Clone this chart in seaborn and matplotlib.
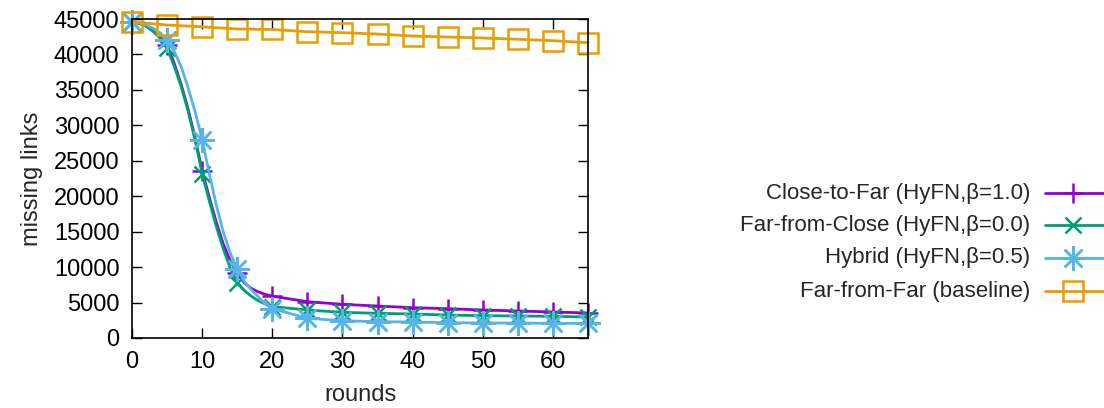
import numpy as np
import pandas as pd
import matplotlib
matplotlib.use("Agg")
import matplotlib.pyplot as plt
from matplotlib.lines import Line2D
import seaborn as sns

# rounds: every round up to 20, then every 5 (curves are flat there)
rounds = list(range(0, 21)) + [25, 30, 35, 40, 45, 50, 55, 60, 65]
close_to_far = [44600, 44400, 44000, 43300, 42400, 41300, 38800, 35800, 32300, 28200,
                23600, 19900, 16400, 13300, 10900, 9100, 7800, 7000, 6500, 6150,
                5900, 5120, 4750, 4510, 4280, 4130, 3950, 3810, 3670, 3530]
far_from_close = [44600, 44400, 44000, 43300, 42300, 40900, 38400, 35500, 32000, 27900,
                  23200, 19400, 15800, 12600, 9900, 7800, 6700, 5900, 5250, 4800,
                  4430, 3950, 3620, 3480, 3390, 3240, 3150, 3100, 3060, 2960]
hybrid = [44600, 44450, 44150, 43700, 43000, 42000, 40500, 38300, 35300, 31900,
          28000, 23300, 18800, 15000, 12000, 9700, 8000, 6800, 5800, 4800,
          4150, 2780, 2440, 2300, 2260, 2160, 2120, 2120, 2070, 2070]

rounds_base = [0, 5, 10, 15, 20, 25, 30, 35, 40, 45, 50, 55, 60, 65]
far_from_far = [44580, 44150, 43900, 43590, 43520, 43210, 43070, 42880, 42600,
                42460, 42320, 42140, 41940, 41660]

labels = ["Close-to-Far (HyFN,\u03b2=1.0)", "Far-from-Close (HyFN,\u03b2=0.0)",
          "Hybrid (HyFN,\u03b2=0.5)", "Far-from-Far (baseline)"]
colors = ["#9400D3", "#009E73", "#56B4E9", "#E69F00"]

sns.set_style("ticks")
plt.rcParams['font.family'] = ['Liberation Sans', 'DejaVu Sans']
plt.rcParams['font.size'] = 16

fig = plt.figure(figsize=(11.04, 4.08), dpi=100)
ax = fig.add_axes([132 / 1104, 1 - 338 / 408, (588 - 132) / 1104, (338 - 19) / 408])

marks = [i for i, r in enumerate(rounds) if r % 5 == 0]
styles = [dict(marker="+", markersize=14, markeredgewidth=1.8),
          dict(marker="x", markersize=11, markeredgewidth=1.8),
          dict(marker=(8, 2, 0), markersize=18, markeredgewidth=1.8),
          dict(marker="s", markersize=14, markeredgewidth=1.8, markerfacecolor="none")]

series = [close_to_far, far_from_close, hybrid]
for k in range(3):
    sns.lineplot(x=rounds, y=series[k], ax=ax, color=colors[k], lw=2,
                 markevery=marks, markeredgecolor=colors[k], clip_on=False,
                 legend=False, **styles[k])
sns.lineplot(x=rounds_base, y=far_from_far, ax=ax, color=colors[3], lw=2,
             markeredgecolor=colors[3], clip_on=False, legend=False, **styles[3])

ax.set_xlim(0, 65)
ax.set_ylim(0, 45000)
ax.set_xticks(range(0, 61, 10))
ax.set_yticks(range(0, 45001, 5000))
ax.tick_params(direction="in", length=7, width=1, top=True, right=True,
               labelsize=17, pad=9, colors="black")
for s in ax.spines.values():
    s.set_linewidth(1.2)
    s.set_color("black")
ax.set_xlabel("rounds", fontsize=17)
ax.set_ylabel("missing links", fontsize=17)
ax.xaxis.labelpad = 8
ax.yaxis.labelpad = 8

# gnuplot style key: text right-aligned, sample to the right
ys = [193, 225, 258, 291]
for k in range(4):
    yf = 1 - ys[k] / 408
    fig.text(1030 / 1104, yf, labels[k], ha="right", va="center", fontsize=16)
    st = dict(styles[k])
    fig.add_artist(Line2D([1045 / 1104, 1073 / 1104, 1104 / 1104], [yf, yf, yf],
                          transform=fig.transFigure, color=colors[k], lw=2,
                          markeredgecolor=colors[k], markevery=[1], **st))

fig.savefig("out.png", dpi=100)
